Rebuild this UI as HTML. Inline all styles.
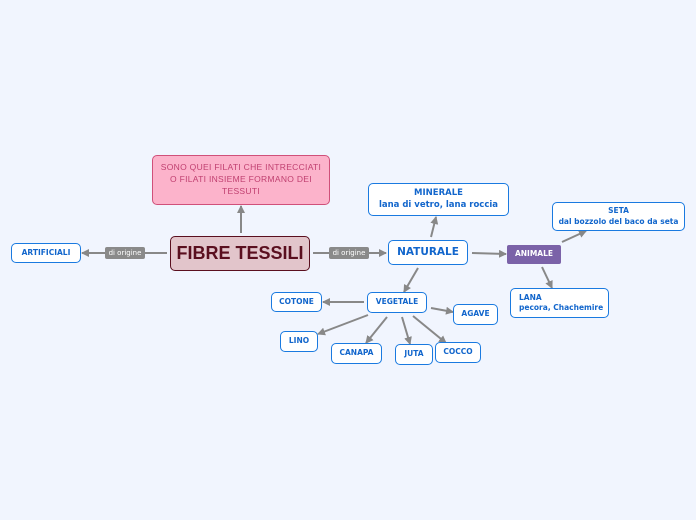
<!DOCTYPE html>
<html><head><meta charset="utf-8"><style>
body{margin:0;width:696px;height:520px;background:#f1f5fe;position:relative;overflow:hidden;font-family:"DejaVu Sans",sans-serif}
.b{position:absolute;box-sizing:border-box;border:1.5px solid #1a7ae0;background:#fff;border-radius:5px;color:#1266cc;font-weight:bold;font-size:7.5px;display:flex;align-items:center;justify-content:center;text-align:center;line-height:1.35}
.l{position:absolute;background:#8a8a8a;color:#fff;font-size:7px;border-radius:2px;display:flex;align-items:center;justify-content:center}
svg{position:absolute;left:0;top:0}
</style></head><body>
<svg width="696" height="520">
<defs><marker id="a" markerWidth="8" markerHeight="8" refX="7" refY="4" orient="auto" markerUnits="userSpaceOnUse"><path d="M0,0L8,4L0,8z" fill="#888"/></marker></defs>
<g stroke="#888" stroke-width="2" fill="none">
<line x1="241" y1="233" x2="241" y2="206" marker-end="url(#a)"/>
<line x1="167" y1="253" x2="82" y2="253" marker-end="url(#a)"/>
<line x1="313" y1="253" x2="386" y2="253" marker-end="url(#a)"/>
<line x1="431" y1="237" x2="436" y2="217" marker-end="url(#a)"/>
<line x1="472" y1="253" x2="506" y2="254" marker-end="url(#a)"/>
<line x1="562" y1="242" x2="586" y2="231" marker-end="url(#a)"/>
<line x1="542" y1="267" x2="552" y2="288" marker-end="url(#a)"/>
<line x1="418" y1="268" x2="404" y2="292" marker-end="url(#a)"/>
<line x1="364" y1="302" x2="323" y2="302" marker-end="url(#a)"/>
<line x1="431" y1="308" x2="453" y2="312" marker-end="url(#a)"/>
<line x1="368" y1="315" x2="318" y2="334" marker-end="url(#a)"/>
<line x1="387" y1="317" x2="366" y2="343" marker-end="url(#a)"/>
<line x1="402" y1="317" x2="410" y2="344" marker-end="url(#a)"/>
<line x1="413" y1="316" x2="446" y2="343" marker-end="url(#a)"/>
</g></svg>
<div class="b" style="left:152px;top:155px;width:178px;height:50px;background:#fcb3cb;border-color:#d0507a;color:#c04070;font-weight:normal;font-size:8.5px;line-height:1.4;font-family:'Liberation Sans',sans-serif;letter-spacing:0.3px">SONO QUEI FILATI CHE INTRECCIATI<br>O FILATI INSIEME FORMANO DEI<br>TESSUTI</div>
<div class="b" style="left:170px;top:236px;width:140px;height:35px;background:#e2c5cb;border-color:#5a0f1f;color:#5a0f1f;font-size:18px;font-family:'Liberation Sans',sans-serif">FIBRE TESSILI</div>
<div class="b" style="left:11px;top:243px;width:70px;height:20px">ARTIFICIALI</div>
<div class="l" style="left:105px;top:247px;width:40px;height:12px">di origine</div>
<div class="l" style="left:329px;top:247px;width:40px;height:12px">di origine</div>
<div class="b" style="left:388px;top:240px;width:80px;height:25px;font-size:10.5px">NATURALE</div>
<div class="b" style="left:368px;top:183px;width:141px;height:33px;font-size:8.5px">MINERALE<br>lana di vetro, lana roccia</div>
<div class="b" style="left:507px;top:245px;width:54px;height:19px;background:#7b62a8;border-color:#7b62a8;color:#fff;border-radius:2px">ANIMALE</div>
<div class="b" style="left:552px;top:202px;width:133px;height:29px">SETA<br>dal bozzolo del baco da seta</div>
<div class="b" style="left:510px;top:288px;width:99px;height:30px;justify-content:flex-start;text-align:left;padding-left:8px">LANA<br>pecora, Chachemire</div>
<div class="b" style="left:367px;top:292px;width:60px;height:21px">VEGETALE</div>
<div class="b" style="left:271px;top:292px;width:51px;height:20px">COTONE</div>
<div class="b" style="left:453px;top:304px;width:45px;height:21px">AGAVE</div>
<div class="b" style="left:280px;top:331px;width:38px;height:21px">LINO</div>
<div class="b" style="left:331px;top:343px;width:51px;height:21px">CANAPA</div>
<div class="b" style="left:395px;top:344px;width:38px;height:21px">JUTA</div>
<div class="b" style="left:435px;top:342px;width:46px;height:21px">COCCO</div>
</body></html>
